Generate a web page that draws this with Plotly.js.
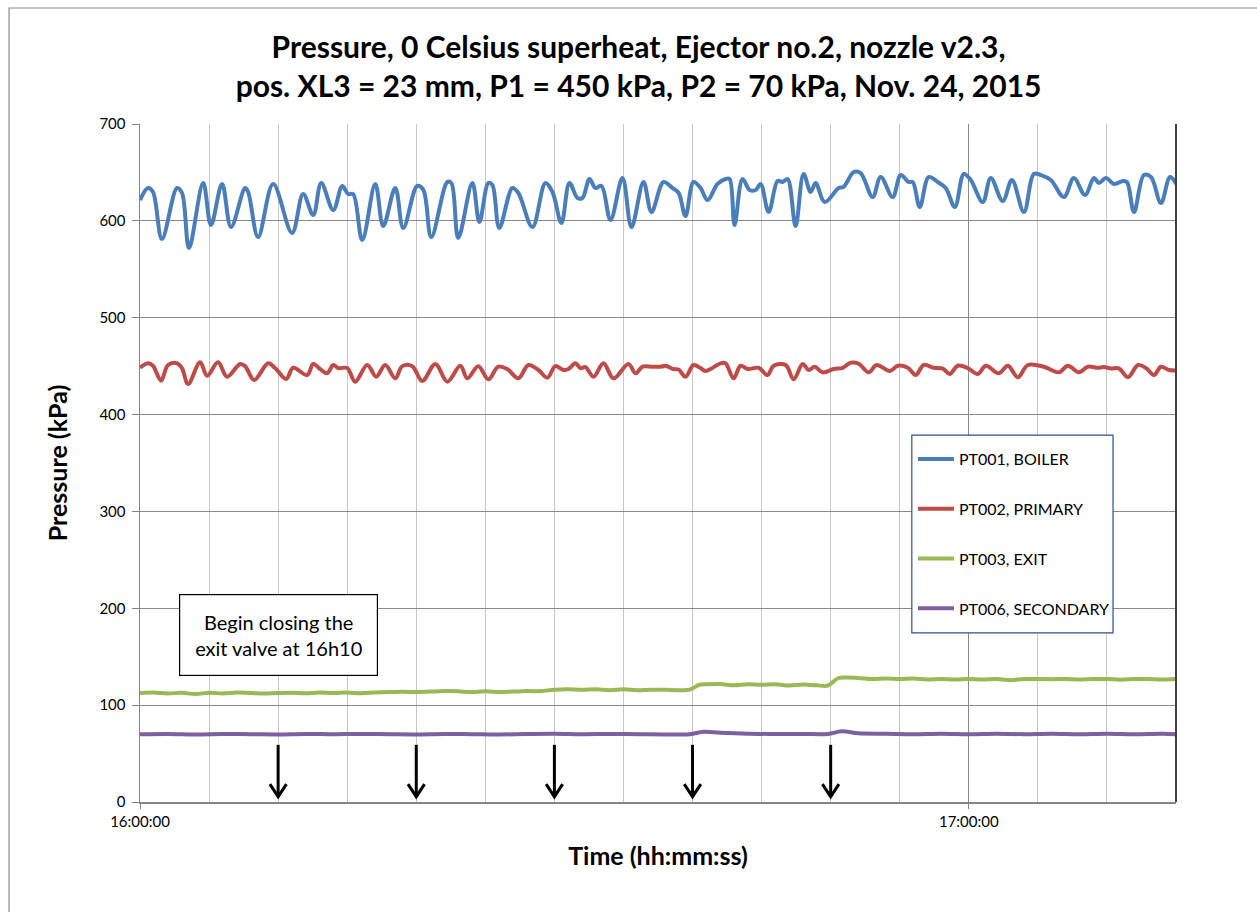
<!DOCTYPE html>
<html>
<head>
<meta charset="utf-8">
<script src="https://cdn.plot.ly/plotly-3.0.1.min.js"></script>
<style>
html,body{margin:0;padding:0;background:#fff;}
#chart{width:1257px;height:912px;}
</style>
</head>
<body>
<div id="chart"></div>
<script>
// ---- Data (time in minutes after 16:00:00, pressure in kPa) ----
const chartTitle = "Pressure, 0 Celsius superheat, Ejector no.2, nozzle v2.3,<br>pos. XL3 = 23 mm, P1 = 450 kPa, P2 = 70 kPa, Nov. 24, 2015";
const xTitle = "Time (hh:mm:ss)";
const yTitle = "Pressure (kPa)";
const xTickVals = [0, 60];
const xTickText = ["16:00:00", "17:00:00"];
const seriesNames = ["PT001, BOILER", "PT002, PRIMARY", "PT003, EXIT", "PT006, SECONDARY"];
const seriesColors = ["#4A7EBB", "#BE4B48", "#98B954", "#7D60A0"];

const boilerT = [0.00,0.58,0.94,1.59,2.68,3.04,3.55,4.57,5.14,5.94,6.59,7.61,7.83,8.55,9.64,11.01,11.81,12.54,13.12,13.99,14.64,15.07,15.43,16.09,17.03,17.61,18.48,19.06,20.07,20.51,21.09,22.25,22.54,23.04,24.06,24.57,25.22,25.51,26.01,26.96,27.39,28.41,29.35,29.86,30.51,31.09,31.67,32.03,32.54,32.97,33.41,34.06,34.93,35.58,36.45,37.03,37.90,38.55,38.99,39.49,40.07,40.58,41.09,41.81,42.39,42.68,43.04,43.62,44.13,44.57,44.93,45.51,46.16,46.52,46.88,47.46,48.04,48.55,48.91,49.57,50.58,50.94,51.67,52.17,53.04,53.62,54.49,55.07,55.65,55.94,56.45,57.10,57.75,58.33,58.99,59.64,60.14,61.01,61.59,62.46,63.12,63.99,64.71,65.22,65.94,66.88,67.61,68.41,69.06,69.42,69.93,70.51,71.16,71.45,71.96,72.68,73.19,73.91,74.57,75.07];
const boilerP = [621.5,633.9,629.8,581.3,633.9,628.8,571.9,639.1,595.7,638.1,593.6,633.9,629.8,583.3,638.1,587.5,627.7,606.0,639.1,611.2,636.0,627.7,627.7,580.2,638.1,594.7,633.9,592.6,636.0,631.9,583.3,640.1,639.1,582.3,639.1,598.8,639.1,637.0,592.6,633.9,628.8,593.6,639.1,629.8,597.8,639.1,623.6,623.6,643.2,633.9,636.0,600.9,644.2,593.6,640.1,609.1,640.1,633.9,628.8,605.0,640.1,633.9,621.5,638.1,643.2,643.2,595.7,643.2,631.9,631.9,638.1,609.1,641.1,640.1,643.2,594.7,648.4,629.8,639.1,619.4,633.9,635.0,650.4,649.4,624.6,645.3,624.6,647.3,640.1,640.1,614.3,645.3,640.1,633.9,614.3,648.4,642.2,619.4,644.2,620.4,642.2,609.1,648.4,647.3,642.2,624.6,644.2,626.7,644.2,639.1,644.2,638.1,641.1,640.1,609.1,647.3,645.3,618.4,645.3,637.0];

const primaryT = [0.00,0.58,0.94,1.52,2.03,2.68,3.04,3.48,4.35,4.86,5.65,6.30,7.25,7.61,8.26,9.28,9.78,10.58,11.09,12.10,12.54,13.04,13.55,13.99,14.35,15.00,15.58,16.45,17.10,17.75,18.48,18.99,19.71,20.43,21.38,22.25,23.19,23.70,24.49,25.22,25.94,26.59,27.39,28.12,28.84,29.49,30.07,30.65,31.01,31.52,31.88,32.25,32.83,33.55,34.28,35.36,35.87,36.38,37.10,37.68,38.04,38.62,38.99,39.49,40.07,40.58,40.94,42.03,42.39,42.97,43.48,43.99,44.78,45.43,45.87,46.74,47.32,47.97,48.41,48.84,49.42,50.22,50.87,51.45,52.03,52.75,53.33,54.28,54.86,55.58,56.16,56.74,57.46,58.12,58.62,59.20,59.93,60.65,61.23,62.17,62.83,63.55,64.28,65.43,66.52,67.17,67.97,68.62,69.35,69.78,70.29,70.87,71.52,72.25,72.83,73.41,73.91,74.49,75.07];
const primaryP = [448.3,452.9,450.4,435.0,451.2,452.9,448.0,431.6,453.9,440.1,453.9,439.1,452.2,450.0,435.7,452.9,448.0,436.7,448.3,440.8,452.2,447.0,442.6,451.2,448.0,448.0,434.0,451.2,439.1,451.2,437.4,450.0,450.0,434.6,452.2,434.0,450.4,437.4,450.0,436.4,449.4,447.0,437.4,451.2,446.0,438.1,450.0,446.0,447.0,452.9,448.0,449.0,439.1,452.9,437.4,452.2,442.6,449.4,449.4,449.4,450.4,447.0,446.5,439.1,451.2,448.0,445.0,452.9,452.9,437.4,450.4,447.0,448.3,440.8,450.4,451.2,436.4,452.2,446.0,449.4,443.6,447.0,448.3,453.6,452.5,443.6,451.2,445.0,450.4,448.3,440.8,451.2,448.3,447.5,441.9,450.4,448.0,441.9,450.4,442.6,450.4,438.5,451.2,449.4,443.6,450.4,443.6,449.4,448.3,449.0,447.6,447.6,438.5,451.2,448.0,440.8,449.4,446.0,445.5];

const exitT = [0,1,2,3,4,5,6,7,8,9,10,11,12,13,14,15,16,17,18,19,20,21,22,23,24,25,26,27,28,29,30,31,32,33,34,35,36,37,38,39,39.8,40.5,41,42,43,44,45,46,47,48,49,49.8,50.5,51,52,53,54,55,56,57,58,59,60,61,62,63,64,65,66,67,68,69,70,71,72,73,74,75];
const exitP = [112.5,113.0,112.0,112.8,111.5,112.8,112.0,113.0,112.5,112.0,112.5,112.8,112.3,113.0,112.5,113.0,112.3,113.0,113.5,113.8,113.5,114.0,114.5,114.3,113.5,114.3,113.5,114.0,114.5,114.5,116.0,116.3,115.8,116.3,115.5,116.3,115.5,116.0,115.8,115.5,116.0,121.0,121.5,121.8,120.5,121.5,121.0,121.5,120.3,121.3,120.5,120.3,127.5,128.5,128.0,127.0,127.5,127.0,127.5,126.5,127.0,126.5,127.0,126.5,127.0,125.8,127.0,127.0,126.8,127.0,126.5,127.0,127.0,126.3,127.0,127.0,126.5,127.0];

const secT = [0,2,4,6,8,10,12,14,16,18,20,22,24,26,28,30,32,34,36,38,39.8,40.8,42,44,46,48,49.8,50.8,52,54,56,58,60,62,64,66,68,70,72,74,75];
const secP = [70.0,70.3,69.8,70.2,70.0,69.8,70.3,70.0,70.3,70.0,69.8,70.3,70.0,69.7,70.2,70.5,70.0,70.3,70.0,69.8,70.0,72.5,71.5,70.5,70.3,70.3,70.3,73.0,71.0,70.5,70.0,70.5,70.0,70.5,70.0,70.5,70.0,70.5,70.0,70.5,70.0];

// valve-closing events (minutes after 16:00) marked by arrows
const eventT = [10, 20, 30, 40, 50];
const noteText = "Begin closing the<br>exit valve at 16h10";

// ---- Build figure ----
const seriesT = [boilerT, primaryT, exitT, secT];
const seriesP = [boilerP, primaryP, exitP, secP];
const traces = seriesNames.map((n, i) => ({
  type: 'scatter', mode: 'lines', name: n,
  x: seriesT[i], y: seriesP[i],
  line: {color: seriesColors[i], width: 4, shape: 'spline', smoothing: 1},
  legendgroup: 'g' + i
}));

const shapes = [];
// arrows (shaft + open chevron head) in data coordinates
const arrowTop = 59, arrowTip = 5.5, headH = 13, headW = 0.6;
eventT.forEach(t => {
  shapes.push({type:'path', xref:'x', yref:'y',
    path: `M ${t},${arrowTop} L ${t},${arrowTip}`,
    line:{color:'#000', width:3}});
  shapes.push({type:'path', xref:'x', yref:'y',
    path: `M ${t-headW},${arrowTip+headH} L ${t},${arrowTip} L ${t+headW},${arrowTip+headH}`,
    line:{color:'#000', width:3}});
});
// right border of plot area
shapes.push({type:'line', xref:'paper', yref:'paper', x0:1, x1:1, y0:0, y1:1, line:{color:'#404040', width:2}});
// outer chart border (left/top visible)
shapes.push({type:'rect', xref:'paper', yref:'paper', x0:-0.1264, x1:1.2, y0:-0.3, y1:1.1711, line:{color:'#8c8c8c', width:1.2}, layer:'below'});
// legend frame
shapes.push({type:'rect', xref:'paper', yref:'paper', x0:0.745, x1:0.9392, y0:0.2493, y1:0.541,
  fillcolor:'#fff', line:{color:'#2F4F86', width:1.2}, layer:'above'});

const layout = {
  width: 1257, height: 912,
  margin: {l:140, r:81, t:124, b:110},
  paper_bgcolor: '#fff', plot_bgcolor: '#fff',
  font: {family: 'Lato, "Open Sans", sans-serif', color: '#000', size: 15},
  title: {text: chartTitle, font:{size:30, family:'Lato, sans-serif', weight:700, color:'#000'},
          x:0.508, xanchor:'center', yref:'container', y:0.936, yanchor:'top'},
  xaxis: {
    range: [0, 75], tickvals: xTickVals, ticktext: xTickText,
    showgrid: true, gridcolor: '#8a8a8a', gridwidth: 1,
    minor: {dtick: 5, tick0: 0, showgrid: true, gridcolor: '#c8c8c8', gridwidth: 1, ticks: ''},
    showline: true, linecolor: '#868686', linewidth: 1.5,
    ticks: 'outside', ticklen: 5, tickcolor: '#868686',
    zeroline: false, tickfont: {size: 15},
    title: {text: xTitle, font:{size:25, weight:700}, standoff: 19}
  },
  yaxis: {
    range: [0, 700], dtick: 100, tick0: 0,
    showgrid: true, gridcolor: '#8a8a8a', gridwidth: 1,
    showline: true, linecolor: '#868686', linewidth: 1.5,
    ticks: 'outside', ticklen: 7, tickcolor: '#868686',
    zeroline: false, tickfont: {size: 15}, ticklabelstandoff: 3,
    title: {text: yTitle, font:{size:25, weight:700}, standoff: 24}
  },
  legend: {
    x: 0.7461, y: 0.531, xanchor: 'left', yanchor: 'top',
    bgcolor: 'rgba(0,0,0,0)', borderwidth: 0,
    font: {size: 16}, tracegroupgap: 26, itemwidth: 36
  },
  showlegend: true,
  shapes: shapes,
  annotations: [{
    xref:'x', yref:'y', x: eventT[0], y: 172.4, text: noteText, showarrow:false,
    font:{size:20}, bordercolor:'#000', borderwidth:1.2, bgcolor:'#fff',
    width: 195, height: 78, align:'center', valign:'middle'
  }]
};

Plotly.newPlot('chart', traces, layout, {displayModeBar:false, staticPlot:true});
</script>
</body>
</html>
